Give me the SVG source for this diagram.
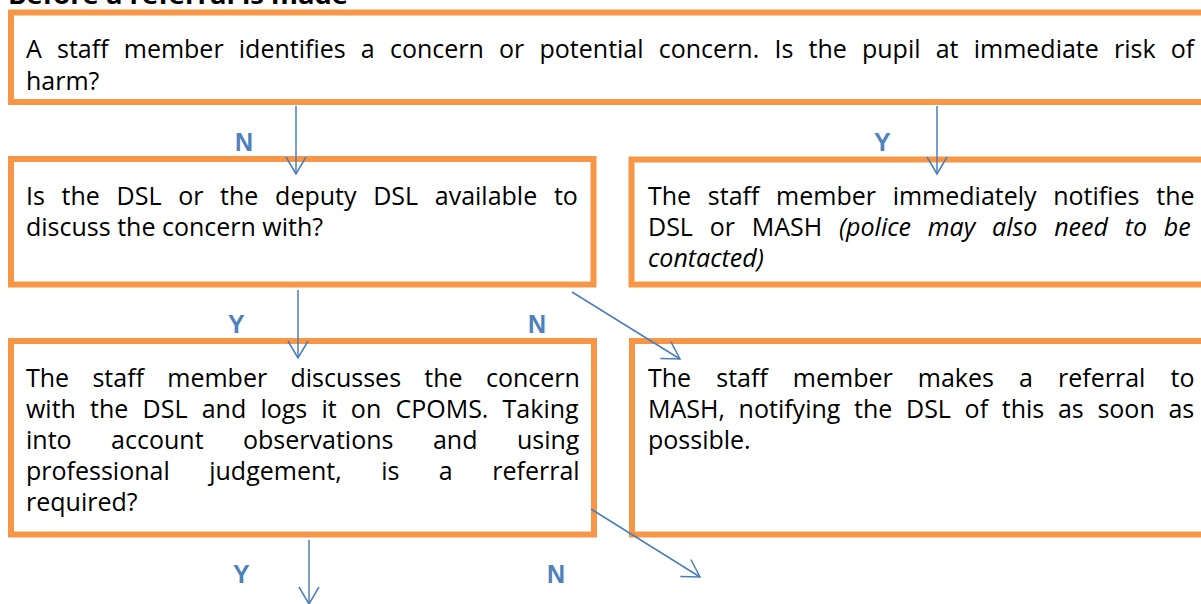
<svg xmlns="http://www.w3.org/2000/svg" width="1201" height="604" viewBox="0 0 1201 604">
  <style>
    .box { fill: #FFFFFF; stroke: #F79646; stroke-width: 6; }
    .txt { font-family: "Open Sans", "Noto Sans", sans-serif; font-size: 25px; fill: #000000; }
    .it { font-style: italic; }
    .title { font-family: "Open Sans", "Noto Sans", sans-serif; font-size: 25px; font-weight: bold; fill: #000000; }
    .lbl { font-family: "Liberation Sans", Arial, sans-serif; font-size: 25px; font-weight: bold; fill: #4F81BD; }
    .conn { stroke: #4A7EBB; stroke-width: 1.5; fill: none; marker-end: url(#arrow); }
  </style>
  <defs>
    <marker id="arrow" markerUnits="userSpaceOnUse" markerWidth="22" markerHeight="24" refX="18" refY="12" orient="auto">
      <path d="M1,2 L18,12 L1,22" fill="none" stroke="#4A7EBB" stroke-width="1.5"/>
    </marker>
  </defs>

  <rect width="1201" height="604" fill="#FFFFFF"/>

  <!-- section heading, partly above the top edge -->
  <text class="title" x="8" y="4" textLength="340" lengthAdjust="spacingAndGlyphs">Before a referral is made</text>

  <!-- justified lines use word-spacing so the gaps widen between words only -->
  <g id="node-concern">
    <rect class="box" x="11" y="12.5" width="1210" height="89.5"/>
    <text class="txt" x="26" y="58" word-spacing="8.7">A staff member identifies a concern or potential concern. Is the pupil at immediate risk of</text>
    <text class="txt" x="26" y="90">harm?</text>
  </g>

  <g id="node-dsl-available">
    <rect class="box" x="11" y="159" width="582.5" height="125.5"/>
    <text class="txt" x="26" y="205" word-spacing="10.2">Is the DSL or the deputy DSL available to</text>
    <text class="txt" x="26" y="236">discuss the concern with?</text>
  </g>

  <g id="node-notify">
    <rect class="box" x="631.5" y="159.5" width="590" height="125"/>
    <text class="txt" x="648" y="205" word-spacing="10.2">The staff member immediately notifies the</text>
    <text class="txt" x="648" y="236" word-spacing="10.3">DSL or MASH <tspan class="it">(police may also need to be</tspan></text>
    <text class="txt it" x="648" y="267">contacted)</text>
  </g>

  <g id="node-discuss">
    <rect class="box" x="11" y="341" width="583" height="193.5"/>
    <text class="txt" x="26" y="387" word-spacing="16.8">The staff member discusses the concern</text>
    <text class="txt" x="26" y="418" word-spacing="7.7">with the DSL and logs it on CPOMS. Taking</text>
    <text class="txt" x="26" y="449" word-spacing="33">into account observations and using</text>
    <text class="txt" x="26" y="480" word-spacing="33">professional judgement, is a referral</text>
    <text class="txt" x="26" y="511">required?</text>
  </g>

  <g id="node-referral">
    <rect class="box" x="632" y="341" width="590" height="193.5"/>
    <text class="txt" x="648" y="387" word-spacing="18.6">The staff member makes a referral to</text>
    <text class="txt" x="648" y="418" word-spacing="7.2">MASH, notifying the DSL of this as soon as</text>
    <text class="txt" x="648" y="449">possible.</text>
  </g>

  <g id="connectors">
    <line class="conn" x1="296" y1="106" x2="296" y2="174"/>
    <line class="conn" x1="937" y1="106" x2="937" y2="174"/>
    <line class="conn" x1="298" y1="290" x2="298" y2="358"/>
    <line class="conn" x1="572" y1="292" x2="680" y2="359"/>
    <line class="conn" x1="591" y1="509" x2="700" y2="577"/>
    <line class="conn" x1="309" y1="540" x2="309" y2="604"/>
    <text class="lbl" x="235" y="151">N</text>
    <text class="lbl" x="874" y="151">Y</text>
    <text class="lbl" x="228" y="333">Y</text>
    <text class="lbl" x="528" y="333">N</text>
    <text class="lbl" x="233" y="583">Y</text>
    <text class="lbl" x="547" y="583">N</text>
  </g>
</svg>
